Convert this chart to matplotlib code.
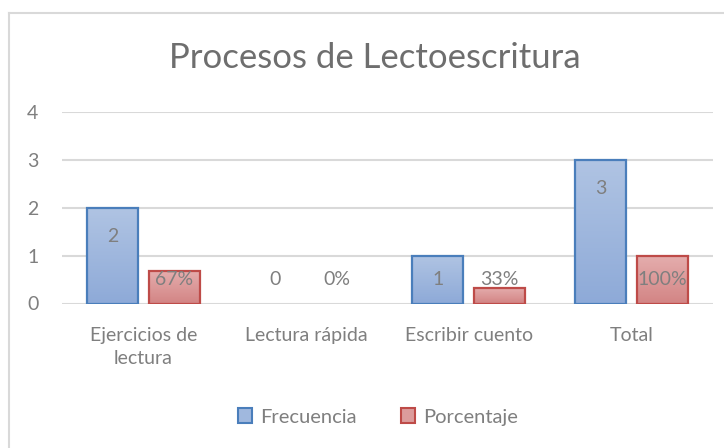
import matplotlib
matplotlib.use("Agg")
import matplotlib.pyplot as plt
import numpy as np
from matplotlib.colors import LinearSegmentedColormap
from matplotlib.patches import Patch
from matplotlib.lines import Line2D

title = "Procesos de Lectoescritura"
categories = ["Ejercicios de\nlectura", "Lectura rápida", "Escribir cuento", "Total"]
series_names = ["Frecuencia", "Porcentaje"]
frecuencia = [2, 0, 1, 3]
porcentaje = [0.67, 0.0, 0.33, 1.0]
frec_labels = ["2", "0", "1", "3"]
porc_labels = ["67%", "0%", "33%", "100%"]
yticks = [0, 1, 2, 3, 4]

plt.rcParams['font.family'] = ['Lato', 'DejaVu Sans']
gray = "#7f7f7f"
gridc = "#d9d9d9"

fig = plt.figure(figsize=(7.24, 4.48), dpi=100)
ax = fig.add_axes([62/724, 144.5/448, (713-62)/724, (336-144.5)/448])
ax.set_xlim(-0.5, len(categories) - 0.5)
ax.set_ylim(0, 4)

x = np.arange(len(categories))
bw = 0.313
off = 0.19

blue_cmap = LinearSegmentedColormap.from_list("b", ["#8eaad8", "#b0c4e3"])
red_cmap = LinearSegmentedColormap.from_list("r", ["#d38585", "#e5aeae"])
grad = np.linspace(0, 1, 256).reshape(-1, 1)

def draw(xs, vals, cmap, edge):
    bars = ax.bar(xs, vals, width=bw, facecolor="none", edgecolor=edge, linewidth=1.6, zorder=3)
    for b, v in zip(bars, vals):
        if v <= 0:
            b.set_linewidth(0)
            continue
        x0, y0 = b.get_x(), b.get_y()
        im = ax.imshow(grad, cmap=cmap, origin="lower", aspect="auto",
                       extent=[x0, x0 + b.get_width(), y0, y0 + b.get_height()], zorder=2)
        im.set_clip_path(b)
    return bars

draw(x - off, frecuencia, blue_cmap, "#4a7ebb")
draw(x + off, porcentaje, red_cmap, "#be4b48")
ax.set_xlim(-0.5, len(categories) - 0.5)
ax.set_ylim(0, 4)
ax.set_aspect("auto")

for xi, v, t in zip(x - off, frecuencia, frec_labels):
    ax.text(xi, max(v - 0.6, 0.5), t, ha="center", va="center", color=gray, fontsize=14, zorder=4)
for xi, v, t in zip(x + off, porcentaje, porc_labels):
    ax.text(xi, max(v - 0.6, 0.5), t, ha="center", va="center", color=gray, fontsize=14, zorder=4)

ax.set_yticks(yticks)
ax.yaxis.grid(True, color=gridc, linewidth=1.5, zorder=0)
ax.set_axisbelow(True)
for s in ax.spines.values():
    s.set_visible(False)
ax.tick_params(axis="y", length=0, pad=17, labelsize=14, labelcolor=gray)
ax.set_xticks(x)
ax.set_xticklabels(categories, linespacing=1.45)
ax.tick_params(axis="x", length=0, pad=17, labelsize=14, labelcolor=gray)

fig.text(375/724, 1 - 58/448, title, ha="center", va="center", fontsize=25, color="#6e6e6e")

handles = [Patch(facecolor="#a0b8de", edgecolor="#4a7ebb", linewidth=1.5),
           Patch(facecolor="#dc9c9c", edgecolor="#be4b48", linewidth=1.5)]
fig.legend(handles, series_names, loc="center", bbox_to_anchor=(378/724, 1 - 417/448),
           ncol=2, frameon=False, fontsize=14.5, labelcolor=gray, handlelength=0.7,
           handleheight=0.7, handletextpad=0.4, columnspacing=2.2)

fig.add_artist(Line2D([9/724, 1], [1 - 13/448, 1 - 13/448], color=gridc, linewidth=1.5, transform=fig.transFigure))
fig.add_artist(Line2D([9/724, 9/724], [0, 1 - 13/448], color=gridc, linewidth=1.5, transform=fig.transFigure))

fig.savefig("out.png", dpi=100)
